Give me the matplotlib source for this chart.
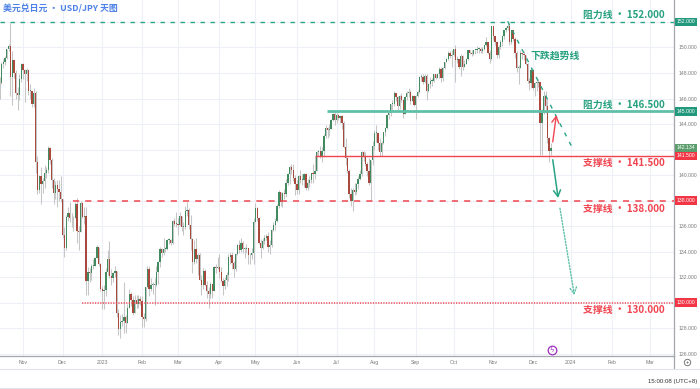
import matplotlib
matplotlib.use("Agg")
import matplotlib.pyplot as plt
from matplotlib.lines import Line2D
from matplotlib.transforms import blended_transform_factory
import numpy as np
import pandas as pd

plt.rcParams['font.family'] = ['Liberation Sans', 'Noto Sans CJK SC', 'DejaVu Sans']
CJK = ['Noto Sans CJK SC', 'DejaVu Sans']

# USD/JPY daily candles, one per weekday from 2022-10-13 to 2023-12-15
start_date = '2022-10-13'
first_open = 146.9
close = [
    147.2, 148.7, 148.9, 149.2, 149.9, 150.1, 147.7, 149.0, 148.0, 146.4, 146.3, 147.5, 148.7,  # Oct 22
    148.2, 147.9, 148.2, 146.6, 146.6, 145.6, 146.4, 141.0, 138.8, 139.9, 139.3, 139.5, 140.2,
    140.4, 142.1, 141.2, 139.6, 138.6, 139.2, 138.9, 138.7, 138.1,  # Nov 22
    135.3, 134.3, 136.7, 137.0, 136.6, 136.6, 136.6, 137.7, 135.6, 135.5, 137.8, 136.7, 136.8,
    131.7, 132.4, 132.3, 132.9, 132.9, 133.5, 134.4, 133.0, 131.1,  # Dec 22
    130.9, 131.0, 132.4, 133.4, 132.1, 131.9, 132.3, 132.5, 129.2, 127.9, 128.5, 128.6, 128.9,
    128.4, 129.6, 130.7, 130.2, 129.2, 130.2, 129.9, 130.3, 130.1,  # Jan 23
    128.9, 128.7, 131.2, 132.6, 131.1, 131.4, 131.4, 131.4, 132.4, 133.2, 134.2, 133.9, 134.2,
    134.2, 134.9, 134.9, 134.7, 136.4, 136.2, 136.2,  # Feb 23
    136.1, 136.8, 135.9, 135.9, 137.2, 137.3, 136.1, 135.0, 133.2, 134.2, 133.4, 133.7, 131.8,
    131.4, 132.5, 131.4, 130.9, 130.7, 131.5, 130.9, 132.8, 132.7, 132.8,  # Mar 23
    132.4, 131.7, 131.3, 131.8, 132.2, 133.6, 133.7, 133.1, 132.6, 133.8, 134.5, 134.1, 134.7,
    134.2, 134.2, 134.3, 133.7, 133.7, 133.9, 136.3,  # Apr 23
    137.4, 136.6, 134.7, 134.3, 134.8, 135.1, 135.2, 134.4, 134.5, 135.7, 136.1, 136.4, 137.6,
    138.7, 137.9, 138.6, 138.5, 139.4, 140.1, 140.6, 140.4, 139.8, 139.3,  # May 23
    138.8, 139.9, 139.6, 139.6, 140.1, 139.0, 139.4, 139.6, 140.2, 140.1, 140.3, 141.8, 141.9,
    141.5, 141.9, 143.1, 143.7, 143.5, 143.6, 144.3, 144.8, 144.3,  # Jun 23
    144.7, 144.5, 144.6, 144.1, 142.2, 141.3, 140.3, 138.5, 138.0, 138.8, 138.7, 139.3, 139.7,
    140.1, 141.8, 141.5, 140.9, 140.3, 139.4, 141.2, 142.3,  # Jul 23
    143.3, 143.3, 142.5, 141.8, 142.5, 143.4, 143.7, 144.7, 144.9, 145.6, 145.6, 146.4, 146.1,
    145.4, 146.2, 145.9, 144.8, 146.1, 146.4, 146.5, 145.8, 146.2, 145.5,  # Aug 23
    146.2, 146.5, 147.7, 147.7, 147.3, 147.8, 146.6, 147.1, 147.4, 147.4, 147.9, 147.6, 147.9,
    148.3, 147.6, 148.4, 148.9, 149.1, 149.6, 149.3, 149.4,  # Sep 23
    149.9, 149.0, 149.1, 148.5, 149.3, 148.5, 148.7, 149.1, 149.8, 149.6, 149.5, 149.8, 149.8,
    149.9, 149.9, 149.7, 149.9, 150.2, 150.4, 149.6, 149.1, 151.7,  # Oct 23
    150.9, 150.4, 149.4, 150.0, 150.4, 150.9, 151.4, 151.5, 151.7, 150.4, 151.4, 150.7, 149.6,
    148.4, 148.4, 149.6, 149.5, 149.4, 148.7, 147.4, 147.2, 148.2,  # Nov 23
    146.8, 147.2, 147.2, 147.3, 144.1, 144.9, 146.2, 145.4, 142.9, 141.9, 142.13,  # Dec 23
]
high = [
    147.7, 148.9, 149.1, 149.3, 149.9, 150.3, 151.9, 149.7, 149.0, 148.2, 146.9, 147.9, 148.8,
    148.8, 148.3, 148.4, 148.2, 147.1, 146.6, 146.8, 146.6, 141.5, 140.0, 140.6, 139.8, 140.8,
    140.6, 142.3, 142.2, 141.3, 139.8, 139.5, 139.6, 139.6, 139.9,
    138.1, 135.9, 136.9, 137.5, 137.9, 137.0, 136.8, 137.9, 138.2, 136.0, 138.0, 137.9, 137.5,
    137.5, 132.8, 132.7, 133.0, 133.4, 133.6, 134.5, 134.4, 133.1,
    131.3, 131.4, 132.7, 134.1, 134.8, 132.6, 132.4, 132.9, 132.5, 129.5, 129.0, 129.1, 131.6,
    129.0, 129.9, 131.1, 130.8, 130.5, 130.6, 130.6, 130.6, 130.5,
    130.5, 129.2, 131.2, 132.9, 132.9, 131.9, 131.6, 131.9, 132.9, 133.3, 134.4, 134.3, 135.1,
    134.4, 135.0, 135.1, 135.0, 136.5, 136.6, 137.1,
    136.6, 137.1, 136.8, 136.3, 137.6, 137.9, 137.4, 136.9, 135.1, 134.9, 135.1, 133.9, 133.9,
    132.2, 132.7, 132.6, 131.7, 131.2, 131.6, 131.5, 132.9, 133.0, 133.6,
    133.8, 132.8, 131.9, 132.0, 132.4, 133.8, 134.0, 134.0, 133.3, 133.9, 134.6, 134.9, 135.1,
    134.8, 134.4, 134.6, 134.3, 133.9, 134.3, 136.6,
    137.8, 137.5, 136.7, 135.0, 135.1, 135.3, 135.4, 135.5, 134.9, 135.8, 136.3, 136.6, 137.7,
    138.8, 138.7, 138.7, 138.9, 139.7, 140.2, 140.7, 140.9, 140.9, 140.0,
    139.6, 140.0, 140.4, 140.1, 140.2, 140.2, 139.7, 139.9, 140.2, 140.9, 141.5, 141.9, 142.0,
    142.3, 142.2, 143.2, 143.9, 143.8, 144.0, 144.4, 144.9, 145.1,
    144.9, 144.8, 144.7, 144.7, 144.2, 142.9, 141.4, 140.5, 139.0, 139.0, 139.4, 139.4, 139.9,
    140.4, 141.9, 141.9, 141.8, 141.0, 141.3, 141.2, 142.7,
    143.5, 143.9, 143.3, 142.9, 142.7, 143.4, 143.8, 144.8, 145.0, 145.6, 145.9, 146.6, 146.4,
    146.2, 146.3, 146.4, 146.0, 146.2, 146.6, 146.8, 146.7, 146.3, 146.3,
    146.3, 146.7, 147.8, 147.9, 147.9, 147.9, 147.9, 147.2, 147.7, 147.6, 147.9, 147.9, 148.0,
    148.5, 148.5, 148.5, 148.9, 149.2, 149.7, 149.7, 149.8,
    149.9, 150.2, 149.3, 149.1, 149.5, 149.4, 149.0, 149.2, 149.8, 149.8, 149.8, 149.8, 149.8,
    150.1, 150.0, 150.0, 150.0, 150.2, 150.8, 150.4, 149.8, 151.7,
    151.7, 150.9, 150.5, 150.2, 150.6, 151.0, 151.4, 151.6, 151.9, 151.8, 151.4, 151.4, 150.8,
    149.7, 148.6, 149.8, 149.6, 149.7, 149.4, 148.8, 147.6, 148.5,
    148.3, 147.3, 147.5, 147.5, 147.3, 145.2, 146.6, 146.6, 146.0, 143.0, 142.5,
]
low = [
    146.0, 147.1, 148.4, 148.6, 149.1, 149.7, 146.2, 145.5, 147.6, 146.0, 145.1, 145.9, 147.3,
    147.5, 145.7, 147.4, 146.3, 146.0, 145.3, 145.3, 140.2, 138.5, 138.6, 137.7, 138.6, 139.0,
    139.8, 140.2, 140.9, 139.0, 137.7, 138.1, 137.5, 138.0, 137.9,
    135.1, 133.6, 134.1, 136.4, 136.3, 135.9, 135.6, 136.6, 134.7, 134.1, 135.5, 136.6, 136.2,
    130.6, 130.6, 131.6, 131.8, 132.6, 132.9, 133.5, 132.9, 130.9,
    129.5, 129.5, 130.5, 132.2, 131.9, 131.4, 131.6, 132.0, 128.9, 127.5, 127.2, 128.2, 127.6,
    127.6, 128.4, 129.6, 129.7, 129.0, 129.2, 129.6, 129.6, 129.8,
    128.1, 128.1, 128.6, 131.2, 130.5, 130.9, 130.7, 129.8, 131.3, 131.5, 132.8, 133.6, 133.7,
    134.0, 134.1, 134.6, 134.5, 134.6, 136.0, 135.9,
    135.3, 136.0, 135.6, 135.3, 135.8, 136.8, 135.8, 134.1, 132.3, 133.0, 133.1, 132.2, 131.8,
    130.6, 131.1, 131.3, 130.4, 129.6, 130.4, 130.4, 130.9, 132.3, 132.6,
    131.9, 131.6, 130.6, 131.1, 131.3, 131.7, 133.0, 132.6, 132.0, 132.5, 133.7, 133.9, 134.0,
    133.9, 133.5, 133.9, 133.0, 133.0, 133.4, 133.0,
    136.3, 136.4, 134.6, 133.5, 134.2, 134.6, 134.9, 134.0, 133.8, 134.4, 135.6, 135.7, 136.3,
    137.4, 137.6, 137.5, 138.1, 138.3, 139.2, 139.3, 140.1, 139.5, 138.4,
    138.5, 138.5, 139.4, 139.2, 139.1, 138.8, 138.8, 139.1, 139.4, 139.4, 139.7, 140.3, 141.5,
    141.3, 141.0, 141.4, 142.9, 142.9, 143.1, 143.6, 144.2, 143.9,
    144.1, 144.3, 144.1, 143.6, 142.1, 140.8, 140.2, 138.2, 137.6, 137.2, 138.4, 138.5, 138.9,
    139.6, 139.9, 141.1, 140.7, 139.9, 139.2, 138.0, 140.8,
    142.0, 142.6, 142.0, 141.5, 141.5, 142.4, 143.1, 143.6, 144.4, 144.6, 145.1, 145.4, 145.8,
    145.0, 145.2, 145.7, 144.5, 144.8, 145.9, 146.1, 145.6, 145.8, 145.4,
    144.4, 146.1, 146.4, 147.4, 147.1, 147.2, 145.9, 146.5, 146.8, 147.0, 147.3, 147.5, 147.6,
    147.6, 147.3, 147.4, 148.3, 148.9, 149.0, 149.2, 148.5,
    149.3, 147.3, 148.8, 148.3, 147.8, 148.2, 148.5, 148.8, 149.0, 149.5, 149.3, 149.4, 149.5,
    149.6, 149.6, 149.6, 149.6, 149.8, 150.1, 149.5, 148.8, 149.0,
    150.6, 150.2, 149.2, 149.2, 149.9, 150.1, 150.7, 151.2, 151.4, 150.2, 150.3, 150.5, 149.2,
    148.1, 147.1, 148.4, 149.1, 149.0, 148.6, 147.2, 146.7, 146.8,
    146.7, 146.2, 146.6, 146.9, 141.6, 141.6, 144.8, 144.9, 142.5, 141.0, 141.6,
]
assert len(close) == len(high) == len(low), (len(close), len(high), len(low))

# horizontal levels and their captions
resist_top = 152.0
resist_mid = 145.0          # drawn at 145, caption says 146.500
support_1 = 141.5
support_2 = 138.0
support_3 = 130.0
last_price = 142.134
caption_top = '阻力线 · 152.000'
caption_mid = '阻力线 · 146.500'
caption_s1 = '支撑线 · 141.500'
caption_s2 = '支撑线 · 138.000'
caption_s3 = '支撑线 · 130.000'
trend_caption = '下跌趋势线'
title = '美元兑日元 · USD/JPY 天图'
clock_text = '15:00:08 (UTC+8)'

# drawn annotations: (date, price)
trend_pts = [('2023-11-13', 152.05), ('2024-01-02', 142.1)]
up_arrow = [('2023-12-18', 142.6), ('2023-12-20', 144.7)]
down_arrow = [('2023-12-18', 141.2), ('2023-12-21', 138.2)]
far_arrow = [('2023-12-22', 137.4), ('2024-01-03', 130.6)]

price_ticks = list(range(126, 153, 2))
hidden_ticks = [130, 138, 142, 152]

# colours
green = '#428a60'
red_c = '#a9483c'
wick = '#c6c6c6'
teal = '#2aa386'
teal_text = '#26a07f'
teal_light = '#5fc0a8'
red = '#f04550'

fig = plt.figure(figsize=(7, 3.89), dpi=100)
W, H = 700, 389
ax = fig.add_axes([0, 1 - 356 / H, 674 / W, 356 / H])

cal = pd.bdate_range(start_date, '2024-03-29')
def bar_of(d):
    return cal.searchsorted(pd.Timestamp(d))

n = len(close)
idx = np.arange(n)
c = np.array(close)
o = np.r_[first_open, c[:-1]]
h = np.maximum(np.array(high), np.maximum(o, c))
l = np.minimum(np.array(low), np.minimum(o, c))
up = c >= o

ax.vlines(idx, l, h, color=wick, lw=0.75, zorder=2)
ax.bar(idx, np.maximum(np.abs(c - o), 0.07), bottom=np.minimum(o, c), width=0.72,
       color=np.where(up, green, red_c), lw=0, zorder=3)

xmax = 374.3
ax.set_xlim(0.24, xmax)
ax.set_ylim(125.82, 153.72)

# levels
ax.hlines(resist_top, 0.24, xmax, color=teal, lw=1.0, ls=(0, (3.2, 4)), zorder=4)
ax.hlines(resist_mid, bar_of('2023-06-26') - 0.3, xmax, color=teal_light, lw=2.0, zorder=4)
ax.hlines(support_1, bar_of('2023-06-15'), xmax, color=red, lw=1.0, zorder=4)
ax.hlines(support_2, bar_of('2022-12-09'), xmax, color=red, lw=1.1, ls=(0, (4, 4)), zorder=4)
ax.hlines(support_3, bar_of('2022-12-16'), xmax, color=red, lw=1.1, ls=(0, (0.8, 0.9)), zorder=4)

# trend line and arrows
tx = [bar_of(d) for d, _ in trend_pts]
ty = [p for _, p in trend_pts]
ax.plot(tx, ty, color=teal, lw=1.0, ls=(0, (3, 4.5)), zorder=5)

def arrow(pts, color, ls='-', lw=1.0):
    (d0, p0), (d1, p1) = pts
    ax.annotate('', xy=(bar_of(d1), p1), xytext=(bar_of(d0), p0),
                arrowprops=dict(arrowstyle='->,head_length=0.45,head_width=0.25',
                                color=color, lw=lw, ls=ls, shrinkA=0, shrinkB=0),
                zorder=6)

arrow(up_arrow, red, lw=1.0)
arrow(down_arrow, teal, lw=1.1)
arrow(far_arrow, teal_light, ls=(0, (1, 1.2)), lw=1.0)

# captions
xr = 665 / 674
bt = blended_transform_factory(ax.transAxes, ax.transData)
for txt, y, col in [(caption_top, resist_top + 0.55, teal_text),
                    (caption_mid, resist_mid + 0.5, teal_text),
                    (caption_s1, support_1 - 0.55, red),
                    (caption_s2, support_2 - 0.66, red),
                    (caption_s3, support_3 - 0.57, red)]:
    ax.text(xr, y, txt, transform=bt, ha='right', va='center', color=col,
            fontsize=7.1, family=CJK, fontweight='bold', zorder=7)
ax.text(294.5, 149.35, trend_caption, ha='left', va='center', color=teal_text,
        fontsize=7.1, family=CJK, fontweight='bold', zorder=7)

# axes styling
ax.set_yticks(price_ticks)
ax.set_yticklabels(['' if v in hidden_ticks else f'{v:.3f}' for v in price_ticks])
ax.yaxis.tick_right()
month_starts = pd.date_range('2022-11-01', '2024-03-01', freq='MS')
ax.set_xticks([bar_of(m) for m in month_starts])
ax.set_xticklabels([str(m.year) if m.month == 1 else m.strftime('%b') for m in month_starts])
ax.tick_params(axis='y', length=0, pad=3, labelsize=3.7, labelcolor='#7a7a7a')
ax.tick_params(axis='x', length=0, pad=3.2, labelsize=3.7, labelcolor='#7a7a7a')
ax.grid(True, color='#edf1f7', lw=0.8)
ax.set_axisbelow(True)
for s in ['top', 'left']:
    ax.spines[s].set_visible(False)
for s in ['right', 'bottom']:
    ax.spines[s].set_color('#a3a6af')
    ax.spines[s].set_linewidth(0.9)

# price boxes on the right axis
def price_box(level, text, fc):
    ax.annotate(text, xy=(1, level), xycoords=bt, xytext=(2.0, 0),
                textcoords='offset points', ha='left', va='center', color='white',
                fontsize=3.7, annotation_clip=False, zorder=8,
                bbox=dict(boxstyle='square,pad=0.35', fc=fc, ec='none'))

price_box(resist_top, '152.000', '#22997c')
price_box(resist_mid, '145.000', '#22997c')
price_box(last_price, f'{last_price:.3f}', '#5c9e6e')
price_box(support_1, '141.500', '#f23645')
price_box(support_2, '138.000', '#f23645')
price_box(support_3, '130.000', '#f23645')

# frame pieces outside the axes
def fy(py):
    return 1 - py / H
fig.add_artist(Line2D([674 / W, 674 / W], [fy(356), fy(369)], color='#a3a6af', lw=0.9))
fig.add_artist(Line2D([0, 1], [fy(369), fy(369)], color='#e0e3eb', lw=0.8))
fig.add_artist(Line2D([0, 1], [fy(388), fy(388)], color='#e0e3eb', lw=0.8))
fig.add_artist(Line2D([551.7 / W], [fy(350)], marker='o', ms=6.2, mfc='white',
                      mec='#a02cc0', mew=0.9))
fig.text(551.7 / W, fy(350), 'ϟ', ha='center', va='center', fontsize=5,
         color='#a02cc0', family=['DejaVu Sans'])
fig.add_artist(Line2D([687 / W], [fy(362)], marker='o', ms=4.6, mfc='none',
                      mec='#777777', mew=0.7))
fig.add_artist(Line2D([687 / W], [fy(362)], marker='o', ms=1.4, mfc='#777777',
                      mec='none'))

fig.text(3 / W, fy(9), title, ha='left', va='center', color='#4f82e6',
         fontsize=6.4, family=CJK, fontweight='bold')
fig.text(697 / W, fy(382), clock_text, ha='right', va='center', color='#333333',
         fontsize=4.4)

fig.savefig('out.png', dpi=100, facecolor='white')
